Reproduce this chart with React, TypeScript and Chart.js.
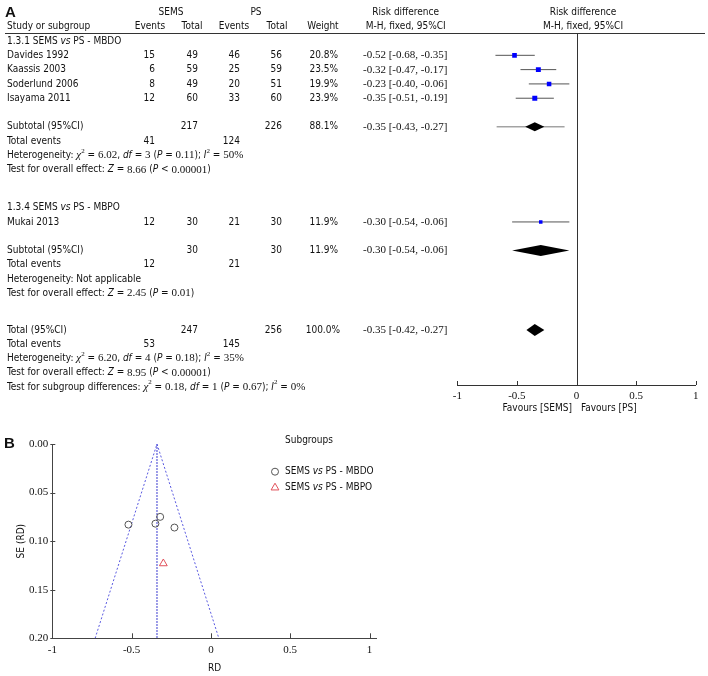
import React, { useEffect, useRef } from "react";
import { Chart, registerables } from "chart.js";
import { drawPoint } from "chart.js/helpers";

Chart.register(...registerables);

// ---------------- Data ----------------
const studies = ["Davides 1992", "Kaassis 2003", "Soderlund 2006", "Isayama 2011", "Mukai 2013"];
const semsEvents = [15, 6, 8, 12, 12];
const semsTotal = [49, 59, 49, 60, 30];
const psEvents = [46, 25, 20, 33, 21];
const psTotal = [56, 59, 51, 60, 30];
const weights = [20.8, 23.5, 19.9, 23.9, 11.9];
const rd = [-0.52, -0.32, -0.23, -0.35, -0.3];
const rdLow = [-0.68, -0.47, -0.4, -0.51, -0.54];
const rdHigh = [-0.35, -0.17, -0.06, -0.19, -0.06];
const studyRows = [3, 4, 5, 6, 14.65];
const seRD = [0.083, 0.075, 0.086, 0.082, 0.123];
const studyGroup = [0, 0, 0, 0, 1];

const pooledLabels = ["Subtotal (95%CI)", "Subtotal (95%CI)", "Total (95%CI)"];
const pooledRows = [8, 16.65, 22.2];
const pooledEst = [-0.35, -0.3, -0.35];
const pooledLow = [-0.43, -0.54, -0.42];
const pooledHigh = [-0.27, -0.06, -0.27];
const pooledSemsTotal = [217, 30, 247];
const pooledPsTotal = [226, 30, 256];
const pooledWeight = ["88.1%", "11.9%", "100.0%"];
const pooledSemsEvents = [41, 12, 53];
const pooledPsEvents = [124, 21, 145];
const pooledEventRows = [9, 17.65, 23.2];
const subtotalWhiskerX = [-0.67, -0.1];

const groupHeaders: [number, string][] = [
  [2, "1.3.1 SEMS |i:vs| PS - MBDO"],
  [13.65, "1.3.4 SEMS |i:vs| PS - MBPO"],
];
const statLines: [number, string][] = [
  [10, "Heterogeneity: |I:χ|^2| = |r:6.02|, |i:df| = |r:3| (|i:P| = |r:0.11|); |i:I|^2| = |r:50%"],
  [11, "Test for overall effect: |i:Z| = |r:8.66| (|i:P| < |r:0.00001|)"],
  [18.65, "Heterogeneity: Not applicable"],
  [19.65, "Test for overall effect: |i:Z| = |r:2.45| (|i:P| = |r:0.01|)"],
  [24.2, "Heterogeneity: |I:χ|^2| = |r:6.20|, |i:df| = |r:4| (|i:P| = |r:0.18|); |i:I|^2| = |r:35%"],
  [25.2, "Test for overall effect: |i:Z| = |r:8.95| (|i:P| < |r:0.00001|)"],
  [26.2, "Test for subgroup differences: |I:χ|^2| = |r:0.18|, |i:df| = |r:1| (|i:P| = |r:0.67|); |i:I|^2| = |r:0%"],
];

const xTicksForest = [-1, -0.5, 0, 0.5, 1];
const funnelX = [-0.73, -0.34, 0.05];
const funnelY = [0.2, 0, 0.2];
const pooledLineX = [-0.34, -0.34];
const pooledLineY = [0, 0.2];
const subgroupNames = ["SEMS |i:vs| PS - MBDO", "SEMS |i:vs| PS - MBPO"];

// ---------------- Styles ----------------
const SANS = "'DejaVu Sans Condensed', 'Liberation Sans', Arial, sans-serif";
const SERIF = "'Liberation Serif', 'DejaVu Serif', serif";
const TXT = "#111";

type Seg = { t: string; serif?: boolean; it?: boolean; sup?: boolean };
function parse(s: string): Seg[] {
  return s.split("|").filter((p) => p.length > 0).map((p) => {
    if (p.startsWith("i:")) return { t: p.slice(2), it: true };
    if (p.startsWith("I:")) return { t: p.slice(2), it: true, serif: true };
    if (p.startsWith("r:")) return { t: p.slice(2), serif: true };
    if (p.startsWith("^")) return { t: p.slice(1), sup: true, serif: true };
    return { t: p };
  });
}
function segFont(s: Seg, size: number) {
  const fam = s.serif ? SERIF : SANS;
  const sz = s.sup ? Math.round(size * 0.7) : s.serif ? size + 1 : size;
  return `${s.it ? "italic " : ""}${sz}px ${fam}`;
}
function drawRich(ctx: CanvasRenderingContext2D, str: string, x: number, y: number, size = 10, align = "left") {
  const segs = parse(str);
  let w = 0;
  for (const s of segs) { ctx.font = segFont(s, size); w += ctx.measureText(s.t).width; }
  let cx = align === "right" ? x - w : align === "center" ? x - w / 2 : x;
  ctx.textAlign = "left";
  ctx.textBaseline = "middle";
  ctx.fillStyle = TXT;
  for (const s of segs) {
    ctx.font = segFont(s, size);
    ctx.fillText(s.t, cx, s.sup ? y - size * 0.45 : y);
    cx += ctx.measureText(s.t).width;
  }
}
function text(ctx: CanvasRenderingContext2D, t: string, x: number, y: number, align: CanvasTextAlign = "left", font = `10px ${SANS}`) {
  ctx.font = font; ctx.textAlign = align; ctx.textBaseline = "middle"; ctx.fillStyle = TXT;
  ctx.fillText(t, x, y);
}
const fmt = (v: number) => v.toFixed(2);
const rdText = (e: number, l: number, h: number) => `${fmt(e)} [${fmt(l)}, ${fmt(h)}]`;

// Column positions
const C = { study: 7, semsEv: 155, semsTot: 198, psEv: 240, psTot: 282, weight: 338, rd: 363 };

// ---------------- Plugins ----------------
const forestPlugin = {
  id: "forestPlugin",
  afterDatasetsDraw(chart: any) {
    const { ctx, scales: { x, y } } = chart;
    ctx.save();
    ctx.fillStyle = "#000";
    const halfH = [4.5, 5.5, 6];
    pooledEst.forEach((e, i) => {
      const py = y.getPixelForValue(pooledRows[i]);
      ctx.beginPath();
      ctx.moveTo(x.getPixelForValue(pooledLow[i]), py);
      ctx.lineTo(x.getPixelForValue(e), py - halfH[i]);
      ctx.lineTo(x.getPixelForValue(pooledHigh[i]), py);
      ctx.lineTo(x.getPixelForValue(e), py + halfH[i]);
      ctx.closePath();
      ctx.fill();
    });
    ctx.restore();
  },
  afterDraw(chart: any) {
    const { ctx, scales: { x, y }, chartArea } = chart;
    const Y = (r: number) => y.getPixelForValue(r);
    ctx.save();
    ctx.strokeStyle = "#333";
    ctx.lineWidth = 1;
    ctx.beginPath();
    const hy = Math.round(chartArea.top) + 0.5;
    ctx.moveTo(5, hy); ctx.lineTo(705, hy);
    const x0 = Math.round(x.getPixelForValue(0)) + 0.5;
    ctx.moveTo(x0, hy); ctx.lineTo(x0, chartArea.bottom);
    for (const t of x.ticks) {
      const px = Math.round(x.getPixelForValue(t.value)) + 0.5;
      ctx.moveTo(px, chartArea.bottom - 4); ctx.lineTo(px, chartArea.bottom);
    }
    ctx.stroke();

    // Headers
    text(ctx, "A", 5, Y(0) + 0.5, "left", `bold 15px 'Liberation Sans', Arial, sans-serif`);
    text(ctx, "SEMS", 171, Y(0), "center");
    text(ctx, "PS", 256, Y(0), "center");
    text(ctx, "Risk difference", 405.7, Y(0), "center");
    text(ctx, "Risk difference", 583, Y(0), "center");
    text(ctx, "Study or subgroup", C.study, Y(1));
    text(ctx, "Events", 150, Y(1), "center");
    text(ctx, "Total", 192, Y(1), "center");
    text(ctx, "Events", 234, Y(1), "center");
    text(ctx, "Total", 277, Y(1), "center");
    text(ctx, "Weight", 323, Y(1), "center");
    text(ctx, "M-H, fixed, 95%CI", 405.7, Y(1), "center");
    text(ctx, "M-H, fixed, 95%CI", 583, Y(1), "center");

    for (const [r, s] of groupHeaders) drawRich(ctx, s, C.study, Y(r));

    studies.forEach((s, i) => {
      const py = Y(studyRows[i]);
      text(ctx, s, C.study, py);
      text(ctx, String(semsEvents[i]), C.semsEv, py, "right");
      text(ctx, String(semsTotal[i]), C.semsTot, py, "right");
      text(ctx, String(psEvents[i]), C.psEv, py, "right");
      text(ctx, String(psTotal[i]), C.psTot, py, "right");
      text(ctx, weights[i].toFixed(1) + "%", C.weight, py, "right");
      text(ctx, rdText(rd[i], rdLow[i], rdHigh[i]), C.rd, py, "left", `11px ${SERIF}`);
    });

    pooledLabels.forEach((s, i) => {
      const py = Y(pooledRows[i]);
      text(ctx, s, C.study, py);
      text(ctx, String(pooledSemsTotal[i]), C.semsTot, py, "right");
      text(ctx, String(pooledPsTotal[i]), C.psTot, py, "right");
      text(ctx, pooledWeight[i], C.weight + (i === 2 ? 2 : 0), py, "right");
      text(ctx, rdText(pooledEst[i], pooledLow[i], pooledHigh[i]), C.rd, py, "left", `11px ${SERIF}`);
      const pe = Y(pooledEventRows[i]);
      text(ctx, "Total events", C.study, pe);
      text(ctx, String(pooledSemsEvents[i]), C.semsEv, pe, "right");
      text(ctx, String(pooledPsEvents[i]), C.psEv, pe, "right");
    });

    for (const [r, s] of statLines) drawRich(ctx, s, C.study, Y(r));

    const fy = chartArea.bottom + 23;
    text(ctx, "Favours [SEMS]", 572, fy, "right");
    text(ctx, "Favours [PS]", 581, fy, "left");
    ctx.restore();
  },
};

const funnelPlugin = {
  id: "funnelPlugin",
  afterDraw(chart: any) {
    const { ctx, scales: { x, y }, chartArea } = chart;
    ctx.save();
    ctx.strokeStyle = "#444";
    ctx.lineWidth = 1;
    ctx.beginPath();
    for (const t of x.ticks) {
      const px = Math.round(x.getPixelForValue(t.value)) + 0.5;
      ctx.moveTo(px, chartArea.bottom - 5); ctx.lineTo(px, chartArea.bottom);
    }
    for (const t of y.ticks) {
      const py = Math.round(y.getPixelForValue(t.value)) + 0.5;
      ctx.moveTo(chartArea.left - 2, py); ctx.lineTo(chartArea.left + 3, py);
    }
    ctx.stroke();

    text(ctx, "B", 4, 23.5, "left", `bold 15px 'Liberation Sans', Arial, sans-serif`);
    // legend
    text(ctx, "Subgroups", 285, 20);
    const ly = [51.7, 67.7];
    const styles = [
      { pointStyle: "circle", radius: 3.5, color: "#555" },
      { pointStyle: "triangle", radius: 4.5, color: "#e0505a" },
    ];
    subgroupNames.forEach((n, i) => {
      ctx.strokeStyle = styles[i].color;
      ctx.fillStyle = "rgba(0,0,0,0)";
      ctx.lineWidth = 1;
      drawPoint(ctx, { pointStyle: styles[i].pointStyle as any, radius: styles[i].radius, borderWidth: 1, rotation: 0 }, 275, ly[i]);
      drawRich(ctx, n, 285, ly[i]);
    });
    ctx.restore();
  },
};

// ---------------- Component ----------------
export default function App() {
  const refA = useRef<HTMLCanvasElement>(null);
  const refB = useRef<HTMLCanvasElement>(null);

  useEffect(() => {
    const ciSets = studies.map((s, i) => ({
      label: s + " CI",
      data: [{ x: rdLow[i], y: studyRows[i] }, { x: rdHigh[i], y: studyRows[i] }],
      showLine: true,
      borderColor: "#555",
      borderWidth: 1,
      pointRadius: 0,
    }));
    const chartA = new Chart(refA.current!, {
      type: "scatter",
      data: {
        datasets: [
          {
            label: "Studies",
            data: studies.map((_, i) => ({ x: rd[i], y: studyRows[i] })),
            pointStyle: "rect",
            pointRadius: weights.map((w) => 0.72 * Math.sqrt(w)),
            backgroundColor: "#0000ff",
            borderColor: "#0000ff",
            borderWidth: 0,
          } as any,
          ...ciSets,
          {
            label: "Subtotal interval",
            data: subtotalWhiskerX.map((v) => ({ x: v, y: pooledRows[0] })),
            showLine: true,
            borderColor: "#777",
            borderWidth: 1,
            pointRadius: 0,
          },
        ],
      },
      options: {
        responsive: false,
        animation: false,
        events: [],
        layout: { padding: { left: 457.3, right: 12.3, top: 33, bottom: 0 } },
        plugins: { legend: { display: false }, tooltip: { enabled: false } },
        scales: {
          x: {
            type: "linear",
            position: "bottom",
            min: xTicksForest[0],
            max: xTicksForest[xTicksForest.length - 1],
            afterBuildTicks: (s: any) => { s.ticks = xTicksForest.map((v) => ({ value: v })); },
            ticks: { color: TXT, font: { family: SERIF, size: 11 }, padding: 5, maxRotation: 0, callback: (v: any) => String(v) },
            grid: { display: false, drawTicks: false },
            border: { display: true, color: "#333", width: 1 },
            afterFit: (s: any) => { s.height = 35; },
          },
          y: { type: "linear", display: false, reverse: true, min: 1.44, max: 26.05 },
        },
      } as any,
      plugins: [forestPlugin],
    });

    const chartB = new Chart(refB.current!, {
      type: "scatter",
      data: {
        datasets: [
          {
            label: "SEMS vs PS - MBDO",
            data: studies.map((_, i) => ({ x: rd[i], y: seRD[i] })).filter((_, i) => studyGroup[i] === 0),
            pointStyle: "circle",
            pointRadius: 3.5,
            borderColor: "#555",
            backgroundColor: "rgba(0,0,0,0)",
            borderWidth: 1,
          },
          {
            label: "SEMS vs PS - MBPO",
            data: studies.map((_, i) => ({ x: rd[i], y: seRD[i] })).filter((_, i) => studyGroup[i] === 1),
            pointStyle: "triangle",
            pointRadius: 4.5,
            borderColor: "#e0505a",
            backgroundColor: "rgba(0,0,0,0)",
            borderWidth: 1,
          },
          {
            label: "Funnel",
            data: funnelX.map((v, i) => ({ x: v, y: funnelY[i] })),
            showLine: true,
            borderColor: "#5a5ae0",
            borderDash: [2, 2],
            borderWidth: 1,
            pointRadius: 0,
          },
          {
            label: "Pooled",
            data: pooledLineX.map((v, i) => ({ x: v, y: pooledLineY[i] })),
            showLine: true,
            borderColor: "#3c3cd0",
            borderDash: [2, 1],
            borderWidth: 1,
            pointRadius: 0,
          },
        ],
      },
      options: {
        responsive: false,
        animation: false,
        events: [],
        layout: { padding: { left: 0, right: 331.3, top: 24, bottom: 0 } },
        plugins: { legend: { display: false }, tooltip: { enabled: false } },
        scales: {
          x: {
            type: "linear",
            min: -1,
            max: 1.045,
            afterBuildTicks: (s: any) => { s.ticks = xTicksForest.map((v) => ({ value: v })); },
            ticks: { color: TXT, font: { family: SERIF, size: 11 }, padding: 5, maxRotation: 0, callback: (v: any) => String(v) },
            grid: { display: false, drawTicks: false },
            border: { display: true, color: "#444", width: 1 },
            title: { display: true, text: "RD", color: TXT, font: { family: SANS, size: 10 }, padding: { top: 0, bottom: 2 } },
            afterFit: (s: any) => { s.height = 37.7; },
          },
          y: {
            type: "linear",
            min: 0,
            max: 0.2,
            reverse: true,
            ticks: { stepSize: 0.05, color: TXT, font: { family: SERIF, size: 11 }, padding: 4, callback: (v: any) => Number(v).toFixed(2) },
            grid: { display: false, drawTicks: false },
            border: { display: true, color: "#444", width: 1 },
            title: { display: true, text: "SE (RD)", color: TXT, font: { family: SANS, size: 10 }, padding: { top: 15, bottom: 0 } },
            afterFit: (s: any) => { s.width = 52.3; },
          },
        },
      } as any,
      plugins: [funnelPlugin],
    });

    return () => { chartA.destroy(); chartB.destroy(); };
  }, []);

  return (
    <div style={{ position: "absolute", left: 0, top: 0, width: 708, height: 676, background: "#fff", overflow: "hidden" }}>
      <canvas ref={refA} width={708} height={420} style={{ position: "absolute", left: 0, top: 0, display: "block" }} />
      <canvas ref={refB} width={708} height={256} style={{ position: "absolute", left: 0, top: 420, display: "block" }} />
    </div>
  );
}
